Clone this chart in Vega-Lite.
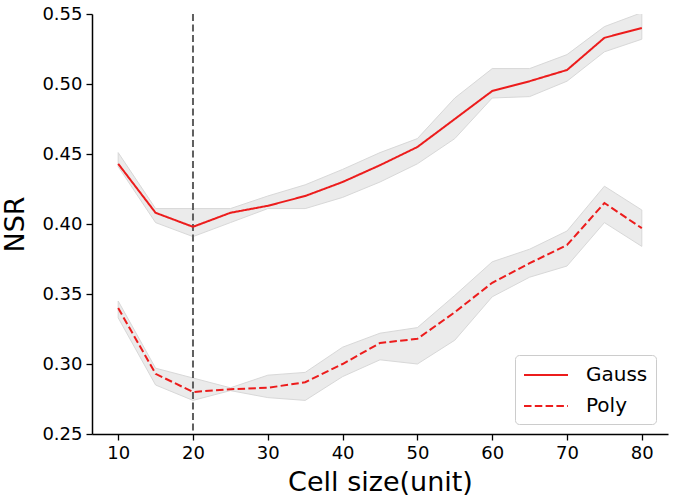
{
  "$schema": "https://vega.github.io/schema/vega-lite/v6.json",
  "autosize": "none",
  "padding": {"left": 92, "top": 14, "right": 7, "bottom": 68},
  "width": 576,
  "height": 420,
  "config": {
    "view": {"stroke": null},
    "font": "DejaVu Sans",
    "axis": {
      "grid": false,
      "domainColor": "black",
      "domainWidth": 1.5,
      "tickColor": "black",
      "tickWidth": 1.3,
      "tickSize": 6,
      "labelFontSize": 18,
      "labelColor": "black",
      "labelFont": "DejaVu Sans",
      "titleFont": "DejaVu Sans",
      "titleFontSize": 27,
      "titleFontWeight": "normal",
      "titleColor": "black"
    }
  },
  "datasets": {
    "main": [
      {"series": "Gauss", "x": 10, "y": 0.443, "lo": 0.441, "hi": 0.451},
      {"series": "Gauss", "x": 15, "y": 0.408, "lo": 0.401, "hi": 0.411},
      {"series": "Gauss", "x": 20, "y": 0.398, "lo": 0.391, "hi": 0.411},
      {"series": "Gauss", "x": 25, "y": 0.408, "lo": 0.401, "hi": 0.411},
      {"series": "Gauss", "x": 30, "y": 0.413, "lo": 0.411, "hi": 0.420},
      {"series": "Gauss", "x": 35, "y": 0.420, "lo": 0.411, "hi": 0.428},
      {"series": "Gauss", "x": 40, "y": 0.430, "lo": 0.419, "hi": 0.439},
      {"series": "Gauss", "x": 45, "y": 0.442, "lo": 0.430, "hi": 0.451},
      {"series": "Gauss", "x": 50, "y": 0.455, "lo": 0.443, "hi": 0.461},
      {"series": "Gauss", "x": 55, "y": 0.475, "lo": 0.461, "hi": 0.490},
      {"series": "Gauss", "x": 60, "y": 0.495, "lo": 0.490, "hi": 0.511},
      {"series": "Gauss", "x": 65, "y": 0.502, "lo": 0.491, "hi": 0.511},
      {"series": "Gauss", "x": 70, "y": 0.510, "lo": 0.502, "hi": 0.521},
      {"series": "Gauss", "x": 75, "y": 0.533, "lo": 0.523, "hi": 0.541},
      {"series": "Gauss", "x": 80, "y": 0.540, "lo": 0.532, "hi": 0.551},
      {"series": "Poly", "x": 10, "y": 0.340, "lo": 0.333, "hi": 0.345},
      {"series": "Poly", "x": 15, "y": 0.293, "lo": 0.285, "hi": 0.297},
      {"series": "Poly", "x": 20, "y": 0.280, "lo": 0.274, "hi": 0.290},
      {"series": "Poly", "x": 25, "y": 0.282, "lo": 0.281, "hi": 0.283},
      {"series": "Poly", "x": 30, "y": 0.283, "lo": 0.276, "hi": 0.292},
      {"series": "Poly", "x": 35, "y": 0.287, "lo": 0.274, "hi": 0.294},
      {"series": "Poly", "x": 40, "y": 0.300, "lo": 0.291, "hi": 0.312},
      {"series": "Poly", "x": 45, "y": 0.315, "lo": 0.303, "hi": 0.322},
      {"series": "Poly", "x": 50, "y": 0.318, "lo": 0.300, "hi": 0.326},
      {"series": "Poly", "x": 55, "y": 0.337, "lo": 0.317, "hi": 0.349},
      {"series": "Poly", "x": 60, "y": 0.358, "lo": 0.348, "hi": 0.373},
      {"series": "Poly", "x": 65, "y": 0.372, "lo": 0.362, "hi": 0.382},
      {"series": "Poly", "x": 70, "y": 0.385, "lo": 0.370, "hi": 0.395},
      {"series": "Poly", "x": 75, "y": 0.415, "lo": 0.401, "hi": 0.427},
      {"series": "Poly", "x": 80, "y": 0.397, "lo": 0.384, "hi": 0.410}
    ],
    "vline": [{"x": 20}]
  },
  "layer": [
    {
      "data": {"name": "main"},
      "mark": {"type": "area", "fill": "#ebebeb", "stroke": "#d8d8d8", "strokeWidth": 1, "clip": true},
      "encoding": {
        "x": {"field": "x", "type": "quantitative",
              "scale": {"domain": [6.5, 83.5], "nice": false, "zero": false},
              "axis": {"values": [10, 20, 30, 40, 50, 60, 70, 80], "title": "Cell size(unit)", "titlePadding": 7, "labelPadding": 4}},
        "y": {"field": "lo", "type": "quantitative",
              "scale": {"domain": [0.25, 0.55], "nice": false, "zero": false},
              "axis": {"values": [0.25, 0.3, 0.35, 0.4, 0.45, 0.5, 0.55], "format": ".2f", "title": "NSR", "titlePadding": 12, "labelPadding": 4}},
        "y2": {"field": "hi"},
        "detail": {"field": "series"}
      }
    },
    {
      "data": {"name": "vline"},
      "mark": {"type": "rule", "color": "#606060", "strokeWidth": 2, "strokeDash": [7, 3.5]},
      "encoding": {
        "x": {"field": "x", "type": "quantitative"}
      }
    },
    {
      "data": {"name": "main"},
      "mark": {"type": "line", "color": "#ec1c1c", "strokeWidth": 2},
      "encoding": {
        "x": {"field": "x", "type": "quantitative"},
        "y": {"field": "y", "type": "quantitative"},
        "strokeDash": {
          "field": "series", "type": "nominal",
          "scale": {"domain": ["Gauss", "Poly"], "range": [[1, 0], [7.5, 3.3]]},
          "legend": {
            "title": null,
            "orient": "none",
            "legendX": 423,
            "legendY": 341,
            "symbolType": "M-1,0H3",
            "symbolStrokeColor": "#ec1c1c",
            "symbolStrokeWidth": 2,
            "symbolSize": 484,
            "labelFontSize": 20,
            "labelFont": "DejaVu Sans",
            "labelColor": "black",
            "labelOffset": 39,
            "rowPadding": 9,
            "padding": 8,
            "strokeColor": "#cccccc",
            "fillColor": "white",
            "cornerRadius": 4
          }
        }
      }
    }
  ]
}
